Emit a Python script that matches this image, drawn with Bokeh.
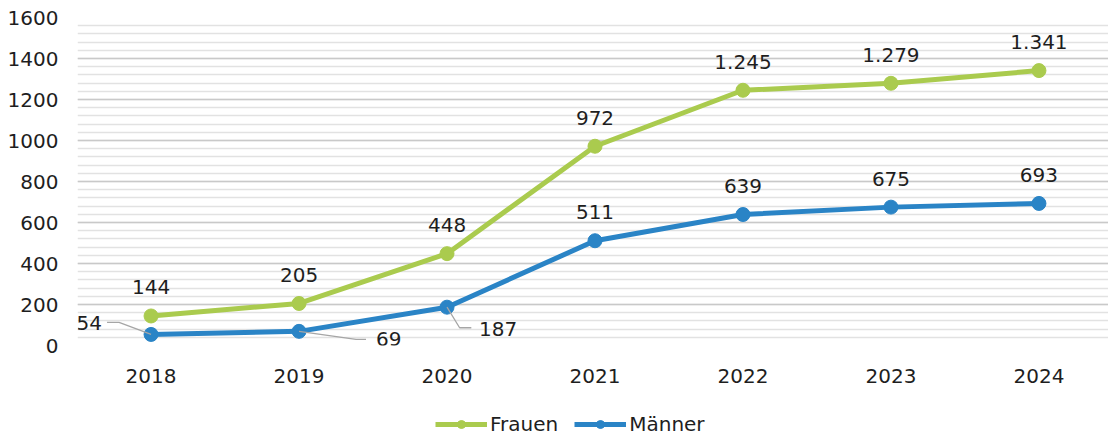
from bokeh.plotting import figure
from bokeh.layouts import column
from bokeh.models import (Range1d, FixedTicker, SingleIntervalTicker, Legend,
                          LegendItem, ColumnDataSource)
from bokeh.embed import file_html
from bokeh.resources import INLINE
from bokeh.core.properties import value

# ---------------- data ----------------
years = [2018, 2019, 2020, 2021, 2022, 2023, 2024]
frauen = [144, 205, 448, 972, 1245, 1279, 1341]
maenner = [54, 69, 187, 511, 639, 675, 693]
series_names = ["Frauen", "Männer"]

# ---------------- styles ----------------
GREEN = "#AACB4E"
BLUE = "#2A84C6"
TEXT = "#1e1e1e"
LEADER = "#a6a6a6"
FONT = "DejaVu Sans"
FS = "20px"

W, H = 1108, 390
BL, BR, BT, BB = 77, 0, 17, 45
X0, X1 = 2017.503, 2024.47
Y0, Y1 = 0, 1600
LEG_H = 46


def de(v):
    return f"{v:,}".replace(",", ".")


p = figure(width=W, height=H, output_backend="svg", toolbar_location=None,
           x_range=Range1d(X0, X1), y_range=Range1d(Y0, Y1),
           min_border_left=BL, min_border_right=BR,
           min_border_top=BT, min_border_bottom=BB)
p.outline_line_color = None
p.background_fill_color = "white"
p.border_fill_color = "white"

# pixel scales (for leader-line offsets given in pixels)
sx = (W - BL - BR) / (X1 - X0)
sy = (H - BT - BB) / (Y1 - Y0)

# axes
yt = SingleIntervalTicker(interval=200, num_minor_ticks=5)
p.yaxis.ticker = yt
p.ygrid.ticker = yt
p.xaxis.ticker = FixedTicker(ticks=years)
for ax in (p.xaxis, p.yaxis):
    ax.axis_line_color = None
    ax.major_tick_line_color = None
    ax.minor_tick_line_color = None
    ax.major_label_text_font = FONT
    ax.major_label_text_font_size = FS
    ax.major_label_text_color = TEXT
p.yaxis.major_label_standoff = 13
p.xaxis.major_label_standoff = 17

p.xgrid.grid_line_color = None
p.ygrid.grid_line_color = "#c9c9c9"
p.ygrid.grid_line_width = 1.3
p.ygrid.minor_grid_line_color = "#e2e2e2"
p.ygrid.minor_grid_line_width = 1.3

# series
p.line(years, frauen, line_width=5, line_color=GREEN)
p.scatter(years, frauen, size=14, fill_color=GREEN, line_color=GREEN)
p.line(years, maenner, line_width=5, line_color=BLUE)
p.scatter(years, maenner, size=14, fill_color=BLUE, line_color=BLUE)

# labels above points (all Frauen, Männer from 2021 on)
for vals, first in ((frauen, 0), (maenner, 3)):
    idx = list(range(first, len(vals)))
    src = ColumnDataSource(dict(x=[years[i] for i in idx],
                                y=[vals[i] for i in idx],
                                t=[de(vals[i]) for i in idx]))
    p.text("x", "y", text="t", source=src, text_align="center",
           text_baseline="middle", y_offset=-28.5,
           text_font=value(FONT), text_font_size=FS, text_color=TEXT)

# leader-line labels (pixel offsets from the point: path knee, path end, text anchor, align)
leaders = {
    0: dict(path=[(-32, -12), (-44, -12)], txt=(-49, -11.5), align="right"),
    1: dict(path=[(57, 8), (67, 8)], txt=(77, 8), align="left"),
    2: dict(path=[(12.6, 20.6), (24.3, 20.6)], txt=(32, 22), align="left"),
}
for i, cfg in leaders.items():
    xs = [years[i]] + [years[i] + dx / sx for dx, dy in cfg["path"]]
    ys = [maenner[i]] + [maenner[i] - dy / sy for dx, dy in cfg["path"]]
    p.line(xs, ys, line_color=LEADER, line_width=1.3)
    tx, ty = cfg["txt"]
    p.text([years[i] + tx / sx], [maenner[i] - ty / sy], text=[de(maenner[i])],
           text_align=cfg["align"], text_baseline="middle",
           text_font=value(FONT), text_font_size=FS, text_color=TEXT)

# ---------------- legend strip ----------------
q = figure(width=W, height=LEG_H, output_backend="svg", toolbar_location=None,
           x_axis_type=None, y_axis_type=None,
           x_range=Range1d(0, 1), y_range=Range1d(0, 1),
           min_border_left=0, min_border_right=0,
           min_border_top=0, min_border_bottom=0)
q.outline_line_color = None
q.grid.grid_line_color = None
items = []
for name, col, vals in zip(series_names, (GREEN, BLUE), (frauen, maenner)):
    # same series data, lying outside this strip's visible range: only the legend shows
    r1 = q.line(years, vals, line_width=5, line_color=col)
    r2 = q.scatter(years, vals, size=14, fill_color=col, line_color=col)
    items.append(LegendItem(label=name, renderers=[r1, r2]))
legend = Legend(items=items, location=(358, 0), orientation="horizontal",
                glyph_width=52, glyph_height=20, label_standoff=3, spacing=16,
                padding=0, margin=0, border_line_color=None,
                background_fill_alpha=0,
                label_text_font=FONT, label_text_font_size=FS,
                label_text_color=TEXT)
q.add_layout(legend)

open("out.html", "w").write(file_html(column(p, q, spacing=0), INLINE))
